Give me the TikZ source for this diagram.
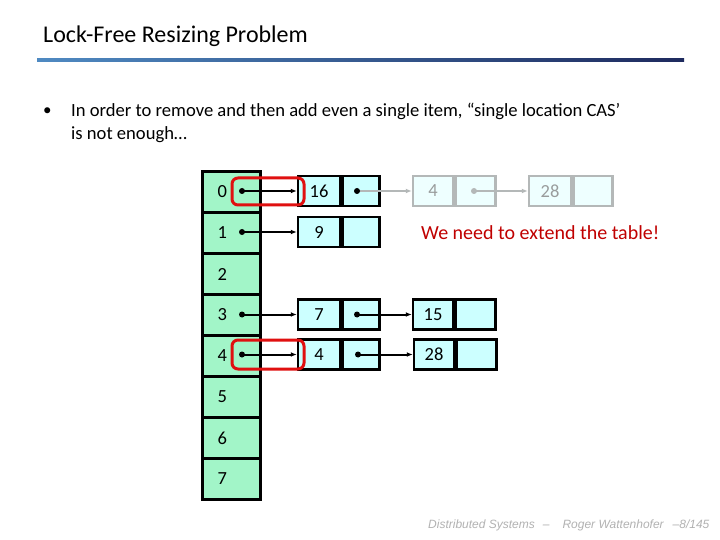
\documentclass[tikz,border=0pt]{standalone}
\usepackage{fontspec}
\setmainfont{Carlito}
\newfontfamily\footfont{Liberation Sans}
\usetikzlibrary{arrows.meta}
\definecolor{tgreen}{HTML}{A2F5C8}
\definecolor{ncyan}{HTML}{CCFFFF}
\definecolor{gfill}{HTML}{EEFFFF}
\definecolor{gline}{HTML}{B4B8B8}
\definecolor{redbox}{HTML}{E01010}
\definecolor{redtext}{HTML}{C00000}
\definecolor{barL}{HTML}{4F8AC2}
\definecolor{barR}{HTML}{1E2A5E}
\tikzset{
  tcell/.style={draw=black, line width=3pt, fill=tgreen, minimum height=41pt, text width=28pt, inner xsep=15pt, align=left, font=\fontsize{18.5}{20}\selectfont, anchor=north west, inner ysep=0pt},
  vcell/.style={draw=black, line width=2.5pt, fill=ncyan, minimum height=30pt, inner sep=0pt, font=\fontsize{18.5}{20}\selectfont},
  gcell/.style={draw=gline, line width=2.5pt, fill=gfill, minimum height=30pt, inner sep=0pt, text=gline!85!black, font=\fontsize{18.5}{20}\selectfont},
  arr/.style={line width=2pt, -{Latex[length=6pt,width=5pt]}},
  garr/.style={draw=gline, line width=2pt, -{Latex[length=6pt,width=5pt]}},
  redrect/.style={draw=redbox, line width=3pt, rounded corners=6pt},
}
\begin{document}
\begin{tikzpicture}[x=1pt,y=-1pt]
\useasboundingbox[fill=white] (0,0) rectangle (720,540);
% title
\node[anchor=west, font=\fontsize{24}{28}\selectfont, inner sep=0pt] (title) at (43,36.5) {Lock-Free Resizing Problem};
\shade[left color=barL, right color=barR] (37,58.5) rectangle (684,62);
% bullet
\node[anchor=west, font=\fontsize{17}{22}\selectfont, inner sep=0pt] (bul) at (43,112) {•};
\node[anchor=north west, align=left, font=\fontsize{18.6}{23.5}\selectfont, inner sep=0pt] (btext) at (71,102.5) {In order to remove and then add even a single item, “single location CAS’\\is not enough…};
% table
\foreach \i/\y in {0/170,1/211,2/252,3/293,4/334,5/375,6/416,7/457}{
  \node[tcell, minimum height=41pt] (t\i) at (201,\y) {\i};
}
% list nodes
\node[vcell, minimum width=42pt] (a0) at (319,191) {16};
\node[vcell, minimum width=37pt, anchor=west] (b0) at (a0.east) {};
\node[vcell, minimum width=42pt] (a1) at (319,232) {9};
\node[vcell, minimum width=37pt, anchor=west] (b1) at (a1.east) {};
\node[vcell, minimum width=42pt] (a3) at (319,314.5) {7};
\node[vcell, minimum width=37pt, anchor=west] (b3) at (a3.east) {};
\node[vcell, minimum width=42pt] (a4) at (319,354.5) {4};
\node[vcell, minimum width=37pt, anchor=west] (b4) at (a4.east) {};
\node[vcell, minimum width=40pt] (c3) at (433,314.5) {15};
\node[vcell, minimum width=40pt, anchor=west] (e3) at (c3.east) {};
\node[vcell, minimum width=40pt] (c4) at (434,354.5) {28};
\node[vcell, minimum width=40pt, anchor=west] (e4) at (c4.east) {};
% gray nodes
\node[gcell, minimum width=40pt] (g1) at (433,191) {4};
\node[gcell, minimum width=40pt, anchor=west] (g1b) at (g1.east) {};
\node[gcell, minimum width=42pt] (g2) at (550,191) {28};
\node[gcell, minimum width=39pt, anchor=west] (g2b) at (g2.east) {};
% pointer dots
\foreach \i/\y in {0/191,1/232,3/314.5,4/354.5}{
  \coordinate (d\i) at (242,\y);
  \fill (d\i) circle (3pt);
  \draw[arr] (d\i) -- (a\i.west);
}
\coordinate (p0) at (357,191);
\coordinate (p3) at (357,314.5);
\coordinate (p4) at (358,354.5);
\fill (p3) circle (3pt); \draw[arr] (p3) -- (c3.west);
\fill (p4) circle (3pt); \draw[arr] (p4) -- (c4.west);
\draw[garr] (p0) -- (g1.west);
\fill (p0) circle (3pt);
\coordinate (q1) at (474,191);
\fill[gline] (q1) circle (3pt);
\draw[garr] (q1) -- (g2.west);
% red boxes
\draw[redrect] (232,178) rectangle (304,205);
\draw[redrect] (232,340) rectangle (304,369);
% red text
\node[anchor=west, text=redtext, font=\fontsize{20}{22}\selectfont, inner sep=0pt] (msg) at (421,233) {We need to extend the table!};
% footer
\node[anchor=west, text=gray!60, font=\footfont\itshape\fontsize{12}{14}\selectfont, inner sep=0pt] (foot) at (428,525) {Distributed Systems\hspace{8pt}–\hspace{13pt}Roger Wattenhofer\hspace{9pt}–8/145};
\end{tikzpicture}
\end{document}
